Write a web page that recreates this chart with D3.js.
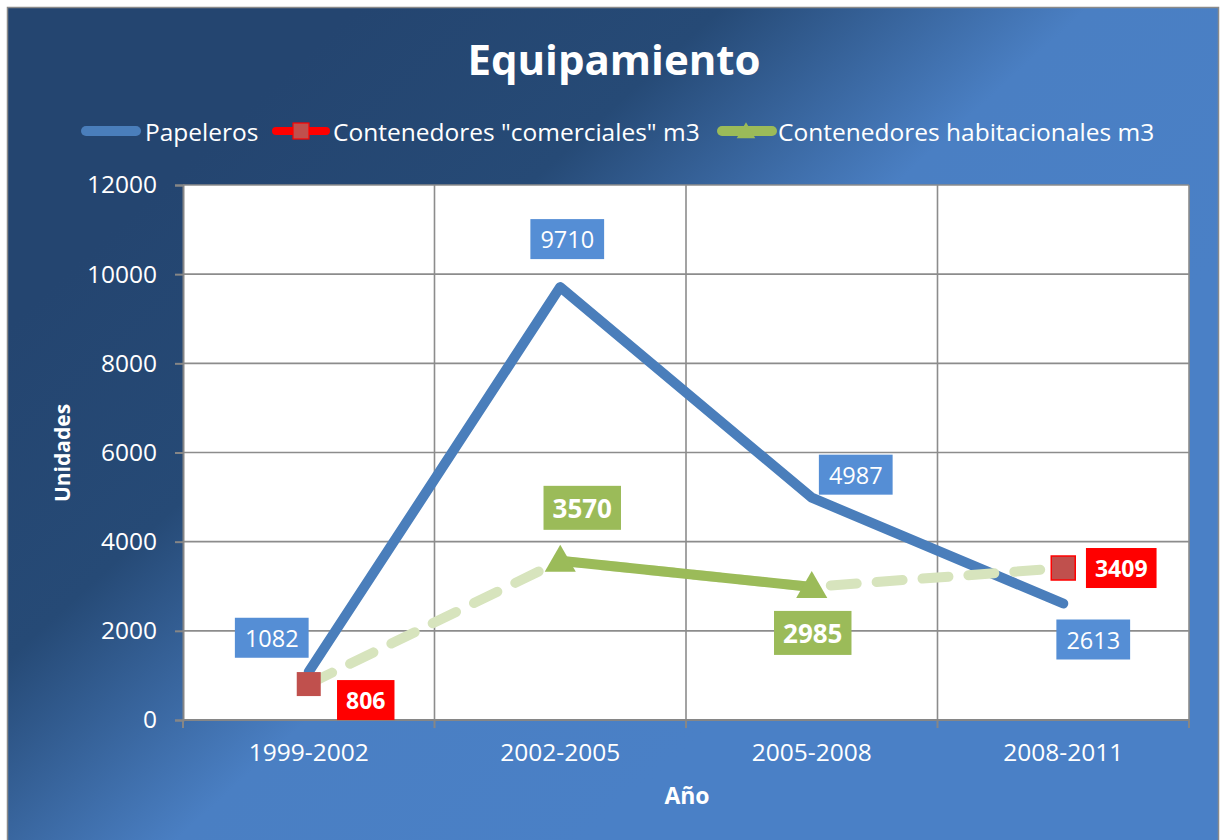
<!doctype html>
<html>
<head>
<meta charset="utf-8"/>
<style>
    html, body { margin: 0; padding: 0; background: #fff; }
    svg { display: block; font-family: "Open Sans", sans-serif; }
</style>
<script src="https://d3js.org/d3.v7.min.js"></script>
</head>
<body>
<svg width="1220" height="840"></svg>
<script>
// data
var categories = ["1999-2002", "2002-2005", "2005-2008", "2008-2011"];
var papeleros = [1082, 9710, 4987, 2613];
var comerciales = [806, null, null, 3409];
var habitacionales = [null, 3570, 2985, null];
var yTicks = [0, 2000, 4000, 6000, 8000, 10000, 12000];
var seriesNames = ["Papeleros", "Contenedores \"comerciales\" m3", "Contenedores habitacionales m3"];

// label placement (offset of label centre from the point)
var papelerosLabelOffset = [[-37, -34], [7, -48], [44, -23], [30, 36]];
var comercialesLabelOffset = [[57, 16], null, null, [58, 0]];
var habitacionalesLabelOffset = [null, [22, -53], [1, 46], null];

var svg = d3.select("svg");
var plot = {left: 183, right: 1189, top: 185, bottom: 720};

var defs = svg.append("defs");
var grad = defs.append("linearGradient").attr("id", "bg")
    .attr("gradientUnits", "userSpaceOnUse")
    .attr("x1", 200).attr("y1", 150).attr("x2", 720).attr("y2", 720);
grad.append("stop").attr("offset", 0).attr("stop-color", "#244570");
grad.append("stop").attr("offset", 0.32).attr("stop-color", "#264a76");
grad.append("stop").attr("offset", 0.64).attr("stop-color", "#4a7fc3");
grad.append("stop").attr("offset", 1).attr("stop-color", "#4a80c6");

svg.append("rect").attr("x", 7.5).attr("y", 7.5).attr("width", 1211).attr("height", 840)
    .attr("fill", "url(#bg)").attr("stroke", "#8a8a8a").attr("stroke-width", 1.5);

// title
svg.append("text").attr("x", 614).attr("y", 75).attr("text-anchor", "middle")
    .attr("fill", "#fff").attr("font-weight", "bold").attr("font-size", 42)
    .text("Equipamiento");

var x = d3.scaleBand().domain(categories).range([plot.left, plot.right]);
var cx = function(c) { return x(c) + x.bandwidth() / 2; };
var y = d3.scaleLinear().domain([0, 12000]).range([plot.bottom, plot.top]);

// plot area
svg.append("rect").attr("x", plot.left).attr("y", plot.top)
    .attr("width", plot.right - plot.left).attr("height", plot.bottom - plot.top)
    .attr("fill", "#fff");

var grid = svg.append("g").attr("stroke", "#8c8c8c").attr("stroke-width", 1.6);
yTicks.forEach(function(t) {
    grid.append("line").attr("x1", plot.left).attr("x2", plot.right)
        .attr("y1", y(t)).attr("y2", y(t));
});
categories.forEach(function(c, i) {
    if (i > 0) grid.append("line").attr("x1", x(c)).attr("x2", x(c))
        .attr("y1", plot.top).attr("y2", plot.bottom);
});
grid.append("line").attr("x1", plot.right).attr("x2", plot.right)
    .attr("y1", plot.top).attr("y2", plot.bottom);

// axes
var yAxis = svg.append("g").attr("transform", "translate(" + plot.left + ",0)")
    .call(d3.axisLeft(y).tickValues(yTicks).tickSize(8).tickPadding(18).tickFormat(d3.format("d")));
var xAxis = svg.append("g").attr("transform", "translate(0," + plot.bottom + ")")
    .call(d3.axisBottom(x).tickSize(0).tickPadding(24));
xAxis.selectAll(".tick text").attr("x", 0);
[yAxis, xAxis].forEach(function(a) {
    a.select(".domain").attr("stroke", "#868686").attr("stroke-width", 2);
    a.selectAll(".tick line").attr("stroke", "#868686").attr("stroke-width", 2);
    a.selectAll(".tick text").attr("fill", "#fff").attr("font-size", 24.5)
        .attr("font-family", "\"Open Sans\", sans-serif");
});
xAxis.select(".domain").remove();
xAxis.append("line").attr("x1", plot.left).attr("x2", plot.right)
    .attr("stroke", "#868686").attr("stroke-width", 2);
var bounds = categories.map(function(c) { return x(c); }).concat([plot.right]);
bounds.forEach(function(b) {
    xAxis.append("line").attr("x1", b).attr("x2", b).attr("y1", 0).attr("y2", 8)
        .attr("stroke", "#868686").attr("stroke-width", 2);
});

// axis titles
svg.append("text").attr("transform", "translate(70,453) rotate(-90)")
    .attr("text-anchor", "middle").attr("fill", "#fff").attr("font-weight", "bold")
    .attr("font-size", 21).text("Unidades");
svg.append("text").attr("x", 687).attr("y", 804).attr("text-anchor", "middle")
    .attr("fill", "#fff").attr("font-weight", "bold").attr("font-size", 23).text("Año");

var blue = "#4a7ebb", red = "#c0504d", green = "#9bbb59", pale = "#d7e4bd";

function pts(vals) {
    return categories.map(function(c, i) { return {c: c, i: i, v: vals[i]}; })
        .filter(function(d) { return d.v !== null; });
}
var line = d3.line().x(function(d) { return cx(d.c); }).y(function(d) { return y(d.v); });

// Papeleros
svg.append("path").attr("d", line(pts(papeleros))).attr("fill", "none")
    .attr("stroke", blue).attr("stroke-width", 10)
    .attr("stroke-linejoin", "round").attr("stroke-linecap", "round");

// dashed connector through the container points
var combined = categories.map(function(c, i) {
    return habitacionales[i] !== null ? habitacionales[i] : comerciales[i];
});
svg.append("path").attr("d", line(pts(combined))).attr("fill", "none")
    .attr("stroke", pale).attr("stroke-width", 10)
    .attr("stroke-dasharray", "26,20").attr("stroke-linecap", "round");

// habitacionales solid
svg.append("path").attr("d", line(pts(habitacionales))).attr("fill", "none")
    .attr("stroke", green).attr("stroke-width", 10).attr("stroke-linecap", "round");

var tri = d3.symbol(d3.symbolTriangle).size(420);
svg.selectAll(".tri").data(pts(habitacionales)).enter().append("path")
    .attr("transform", function(d) { return "translate(" + cx(d.c) + "," + (y(d.v) + 2) + ")"; })
    .attr("d", tri).attr("fill", green);

svg.selectAll(".sq").data(pts(comerciales)).enter().append("rect")
    .attr("x", function(d) { return cx(d.c) - 12; })
    .attr("y", function(d) { return y(d.v) - 12; })
    .attr("width", 24).attr("height", 24).attr("fill", red)
    .attr("stroke", function(d) { return d.i === 3 ? "#ff0000" : "none"; })
    .attr("stroke-width", 1.5);

// data labels
function labels(vals, offsets, bg, size, bold, padX, h) {
    pts(vals).forEach(function(d) {
        var o = offsets[d.i];
        var lx = cx(d.c) + o[0], ly = y(d.v) + o[1];
        var g = svg.append("g");
        var t = g.append("text").attr("x", lx).attr("y", ly)
            .attr("text-anchor", "middle").attr("dominant-baseline", "central")
            .attr("fill", "#fff").attr("font-size", size)
            .attr("font-weight", bold ? "bold" : "normal").text(d.v);
        var w = t.node().getComputedTextLength() + 2 * padX;
        g.insert("rect", "text").attr("x", lx - w / 2).attr("y", ly - h / 2)
            .attr("width", w).attr("height", h).attr("fill", bg);
    });
}
labels(papeleros, papelerosLabelOffset, "#558ed5", 23.5, false, 10, 40);
labels(comerciales, comercialesLabelOffset, "#ff0000", 23, true, 9, 40);
labels(habitacionales, habitacionalesLabelOffset, green, 26, true, 9, 44);

// legend
var leg = svg.append("g").attr("font-size", 24.5).attr("fill", "#fff");
leg.append("line").attr("x1", 86).attr("x2", 136).attr("y1", 131).attr("y2", 131)
    .attr("stroke", blue).attr("stroke-width", 10).attr("stroke-linecap", "round");
leg.append("text").attr("x", 145).attr("y", 131).attr("dominant-baseline", "central").text(seriesNames[0]);
leg.append("line").attr("x1", 276).attr("x2", 326).attr("y1", 131).attr("y2", 131)
    .attr("stroke", "#ff0000").attr("stroke-width", 8).attr("stroke-linecap", "round");
leg.append("rect").attr("x", 293).attr("y", 123).attr("width", 16).attr("height", 16)
    .attr("fill", red).attr("stroke", "#ff0000").attr("stroke-width", 1.2);
leg.append("text").attr("x", 333).attr("y", 131).attr("dominant-baseline", "central").text(seriesNames[1]);
leg.append("line").attr("x1", 722).attr("x2", 772).attr("y1", 131).attr("y2", 131)
    .attr("stroke", green).attr("stroke-width", 10).attr("stroke-linecap", "round");
leg.append("path").attr("transform", "translate(746,133)")
    .attr("d", d3.symbol(d3.symbolTriangle).size(150)).attr("fill", green);
leg.append("text").attr("x", 778).attr("y", 131).attr("dominant-baseline", "central").text(seriesNames[2]);
</script>
</body>
</html>
